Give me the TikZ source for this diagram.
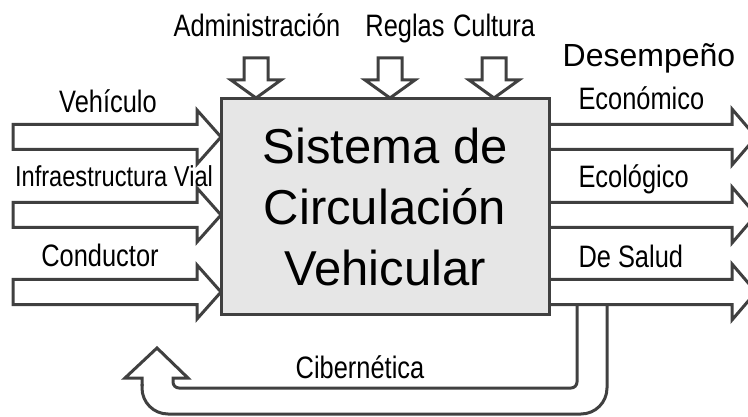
\documentclass[tikz,border=0pt]{standalone}
\usepackage{fontspec}
\setmainfont{Liberation Sans}
\newfontfamily\narrowfont[FakeStretch=0.82]{Liberation Sans}
\definecolor{bordo}{HTML}{404040}
\definecolor{grigio}{HTML}{E6E6E6}
\begin{document}
\begin{tikzpicture}[x=1pt, y=-1pt, line width=3pt,
  every node/.style={font=\narrowfont\fontsize{31}{31}\selectfont, inner sep=0pt},
  freccia/.style={draw=bordo, fill=white}]
  \useasboundingbox (0,0) rectangle (748,417);

  % frecce in ingresso
  \foreach \y in {137,215,292}
    \draw[freccia] (13,\y-12.5) -- (197,\y-12.5) -- (197,\y-27) -- (221,\y)
      -- (197,\y+27) -- (197,\y+12.5) -- (13,\y+12.5) -- cycle;

  % frecce in uscita (desempeño)
  \foreach \y in {137,215,292}
    \draw[freccia] (549,\y-12.5) -- (732,\y-12.5) -- (732,\y-28) -- (756,\y)
      -- (732,\y+28) -- (732,\y+12.5) -- (549,\y+12.5);

  % frecce dall'alto
  \foreach \x in {256,390,494}
    \draw[freccia] (\x-12,58) -- (\x+12,58) -- (\x+12,80) -- (\x+25,80)
      -- (\x,98) -- (\x-25,80) -- (\x-12,80) -- cycle;

  % retroazione
  \draw[draw=bordo, rounded corners=26] (607,303) -- (607,414) -- (142,414) -- (142,384);
  \draw[draw=bordo] (142,386) -- (142,378) -- (125,378) -- (157,348) -- (188,378)
    -- (173,378) -- (173,382) [rounded corners=6] -- (173,388) -- (577,388) -- (577,303);

  % blocco centrale
  \node[draw=bordo, fill=grigio, minimum width=328pt, minimum height=215pt, align=center,
    font=\fontsize{49}{61}\selectfont] (sis) at (385,206.5) {Sistema de\\Circulación\\Vehicular};

  % etichette in alto
  \node[anchor=base] (amm) at (257,37) {Administración};
  \node[anchor=base] (reg) at (405,37) {Reglas};
  \node[anchor=base] (cul) at (494,37) {Cultura};

  % etichette ingressi
  \node[anchor=base] (veh) at (108,113) {Vehículo};
  \node[anchor=base, font=\narrowfont\fontsize{28.8}{28.8}\selectfont] (inf) at (114,187) {Infraestructura Vial};
  \node[anchor=base] (con) at (100,267) {Conductor};

  % etichette uscite
  \node[anchor=base, font=\fontsize{32}{32}\selectfont] (des) at (649,67) {Desempeño};
  \node[anchor=base west] (eco) at (577,110) {Económico};
  \node[anchor=base west] (eco2) at (577,188) {Ecológico};
  \node[anchor=base west] (sal) at (577,268) {De Salud};

  % etichetta retroazione
  \node[anchor=base] (cib) at (360,378) {Cibernética};
\end{tikzpicture}
\end{document}
